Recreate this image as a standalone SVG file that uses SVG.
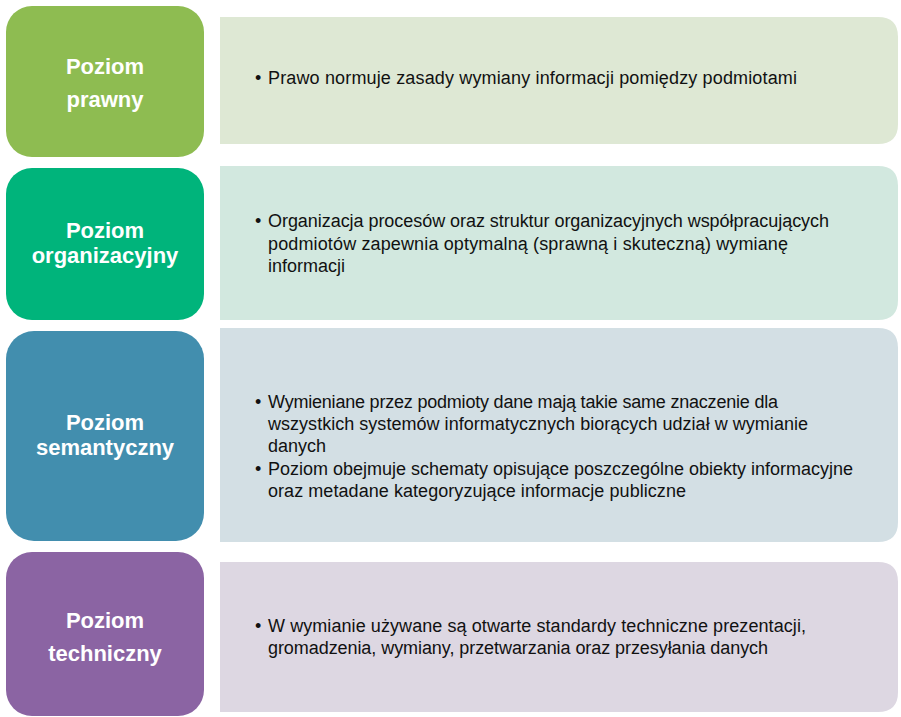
<svg xmlns="http://www.w3.org/2000/svg" width="901" height="717" viewBox="0 0 901 717">
<style>
.t{font-family:"Liberation Sans",Arial,sans-serif;font-weight:bold;font-size:22px;fill:#fff;text-anchor:middle}
.b{font-family:"Liberation Sans",Arial,sans-serif;font-size:18px;fill:#111}
</style>
<rect width="901" height="717" fill="#fff"/>
<g id="n1">
<path d="M220,17 H878 Q898,17 898,37 V124 Q898,144 878,144 H220 Z" fill="#DEE8D4"/>
<rect x="6" y="6" width="198" height="151" rx="26" fill="#8EBC51"/>
<text class="t" x="105" y="74">Poziom</text>
<text class="t" x="105" y="107">prawny</text>
<text class="b" x="255" y="84">• <tspan x="268" textLength="529">Prawo normuje zasady wymiany informacji pomiędzy podmiotami</tspan></text>
</g>
<g id="n2">
<path d="M220,166 H878 Q898,166 898,186 V300 Q898,320 878,320 H220 Z" fill="#D2E8DF"/>
<rect x="6" y="168" width="198" height="152" rx="26" fill="#00B47B"/>
<text class="t" x="105" y="238">Poziom</text>
<text class="t" x="105" y="263">organizacyjny</text>
<text class="b" x="255" y="227">• <tspan x="268" textLength="561">Organizacja procesów oraz struktur organizacyjnych współpracujących</tspan></text>
<text class="b" x="268" y="250" textLength="520">podmiotów zapewnia optymalną (sprawną i skuteczną) wymianę</text>
<text class="b" x="268" y="272">informacji</text>
</g>
<g id="n3">
<path d="M220,328 H878 Q898,328 898,348 V522 Q898,542 878,542 H220 Z" fill="#D3DFE4"/>
<rect x="6" y="331" width="198" height="210" rx="28" fill="#428EAE"/>
<text class="t" x="105" y="430">Poziom</text>
<text class="t" x="105" y="455">semantyczny</text>
<text class="b" x="255" y="408">• <tspan x="268" textLength="510">Wymieniane przez podmioty dane mają takie same znaczenie dla</tspan></text>
<text class="b" x="268" y="430" textLength="540">wszystkich systemów informatycznych biorących udział w wymianie</text>
<text class="b" x="268" y="452">danych</text>
<text class="b" x="255" y="475">• <tspan x="268" textLength="585">Poziom obejmuje schematy opisujące poszczególne obiekty informacyjne</tspan></text>
<text class="b" x="268" y="497" textLength="418">oraz metadane kategoryzujące informacje publiczne</text>
</g>
<g id="n4">
<path d="M220,562 H878 Q898,562 898,582 V692 Q898,712 878,712 H220 Z" fill="#DDD7E2"/>
<rect x="6" y="552" width="198" height="164" rx="26" fill="#8B64A3"/>
<text class="t" x="105" y="628">Poziom</text>
<text class="t" x="105" y="661">techniczny</text>
<text class="b" x="255" y="632">• <tspan x="268" textLength="538">W wymianie używane są otwarte standardy techniczne prezentacji,</tspan></text>
<text class="b" x="268" y="654" textLength="500">gromadzenia, wymiany, przetwarzania oraz przesyłania danych</text>
</g>
<g id="connectors"/>
</svg>
